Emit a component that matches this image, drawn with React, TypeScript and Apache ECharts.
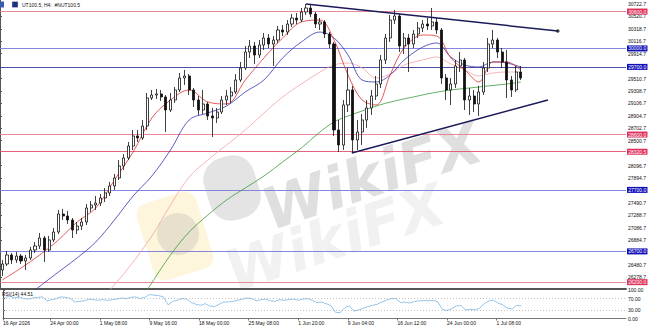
import React, { useEffect, useRef } from "react";
import * as echarts from "echarts";

const SLOTS = 134;
const slotCategories = Array.from({ length: SLOTS }, (_, i) => String(i));

// [open, close, low, high] — 12h candles
const candles: number[][] = [
  [26398, 26495, 26300, 26560], [26495, 26642, 26463, 26707], [26642, 26560, 26495, 26674], [26560, 26625, 26512, 26690],
  [26625, 26544, 26495, 26658], [26544, 26593, 26398, 26642], [26593, 26723, 26560, 26772], [26723, 26788, 26674, 26853],
  [26788, 26918, 26739, 26999], [26918, 26723, 26528, 26951], [26723, 26886, 26690, 26951], [26886, 27016, 26853, 27081],
  [27016, 27308, 26983, 27373], [27308, 27276, 27211, 27390], [27276, 27211, 27146, 27357], [27211, 27048, 26918, 27243],
  [27048, 27113, 26983, 27178], [27113, 27178, 27048, 27243], [27178, 27406, 27129, 27471], [27406, 27455, 27341, 27520],
  [27455, 27487, 27373, 27601], [27487, 27569, 27438, 27634], [27569, 27650, 27503, 27731], [27650, 27764, 27601, 27829],
  [27764, 27894, 27699, 27959], [27894, 28089, 27861, 28186], [28089, 28219, 28024, 28284], [28219, 28414, 28186, 28479],
  [28414, 28577, 28349, 28674], [28577, 28544, 28479, 28674], [28544, 28739, 28512, 28837], [28739, 29195, 28674, 29276],
  [29195, 29243, 29162, 29325], [29243, 29260, 29178, 29341], [29260, 29211, 29146, 29325], [29211, 28999, 28642, 29243],
  [28999, 29162, 28967, 29276], [29162, 29325, 29113, 29373], [29325, 29520, 29292, 29601], [29520, 29552, 29406, 29650],
  [29552, 29325, 29243, 29584], [29325, 29162, 29048, 29357], [29162, 28999, 28918, 29227], [28999, 29097, 28934, 29325],
  [29097, 28902, 28837, 29129], [28902, 28869, 28560, 29032], [28869, 28967, 28788, 29032], [28967, 29162, 28934, 29227],
  [29162, 29227, 29081, 29325], [29227, 29292, 29113, 29373], [29292, 29487, 29260, 29584], [29487, 29682, 29455, 29780],
  [29682, 29942, 29650, 30040], [29942, 30040, 29845, 30137], [30040, 29893, 29747, 30105], [29893, 30056, 29845, 30137],
  [30056, 30170, 29975, 30251], [30170, 30072, 30007, 30235], [30072, 30137, 29715, 30202], [30137, 30300, 30089, 30365],
  [30300, 30267, 30202, 30381], [30267, 30397, 30219, 30462], [30397, 30495, 30349, 30560], [30495, 30462, 30397, 30576],
  [30462, 30593, 30430, 30658], [30593, 30658, 30544, 30723], [30658, 30560, 30511, 30706], [30560, 30397, 30332, 30593],
  [30397, 30430, 30300, 30495], [30430, 30235, 30170, 30462], [30235, 30072, 30007, 30267], [30072, 28674, 28577, 30105],
  [28674, 28430, 28316, 28837], [28430, 29081, 28349, 29162], [29081, 29325, 28967, 29682], [29325, 28512, 28300, 29390],
  [28512, 28642, 28349, 28837], [28642, 28837, 28430, 28934], [28837, 29032, 28707, 29162], [29032, 29227, 28918, 29325],
  [29227, 29422, 29162, 29552], [29422, 29812, 29357, 29893], [29812, 30170, 29747, 30235], [30170, 30462, 30105, 30544],
  [30462, 30528, 30397, 30625], [30528, 30040, 29942, 30560], [30040, 30170, 29910, 30251], [30170, 30072, 29617, 30235],
  [30072, 30235, 30007, 30300], [30235, 30332, 30170, 30430], [30332, 30397, 30267, 30462], [30397, 30365, 30300, 30495],
  [30365, 30430, 30300, 30658], [30430, 30300, 30235, 30495], [30300, 29520, 29422, 30332], [29520, 29325, 29162, 29584],
  [29325, 29422, 29081, 29520], [29422, 29715, 29357, 29812], [29715, 29812, 29617, 29942], [29812, 29162, 28999, 29845],
  [29162, 29227, 28918, 29357], [29227, 29097, 28967, 29325], [29097, 29292, 28902, 29390], [29292, 29682, 29243, 29780],
  [29682, 30072, 29617, 30170], [30072, 30137, 30007, 30300], [30137, 29942, 29845, 30170], [29942, 29780, 29682, 30007],
  [29780, 29487, 29195, 29975], [29487, 29325, 29211, 29552], [29325, 29617, 29292, 29715], [29617, 29520, 29487, 29715],
];

// moving averages sampled at candle indices: [candleIndex, price]
const maFast = [
  [0, 26235], [4, 26430], [8, 26642], [12, 26886], [16, 27178], [20, 27406], [24, 27861], [28, 28316],
  [32, 28869], [36, 29162], [40, 29325], [44, 29129], [48, 29097], [52, 29487], [56, 29845], [60, 30170],
  [64, 30430], [68, 30462], [71, 30137], [74, 29568], [77, 29162], [80, 29081], [83, 29568], [86, 30007],
  [90, 30219], [93, 30202], [96, 29845], [99, 29650], [102, 29455], [105, 29780], [108, 29780], [111, 29650],
];
const maMid = [
  [7, 26072], [12, 26365], [16, 26593], [20, 26853], [24, 27211], [28, 27601], [32, 27926], [36, 28349],
  [40, 28837], [44, 28951], [48, 29064], [52, 29292], [56, 29487], [60, 29845], [64, 30105], [68, 30267],
  [71, 30170], [74, 29893], [77, 29487], [80, 29455], [83, 29568], [86, 29812], [90, 30023], [93, 30089],
  [96, 29861], [99, 29731], [102, 29698], [105, 29780], [108, 29763], [111, 29698],
];
const maSlow = [
  [23, 26072], [27, 26430], [32, 26951], [36, 27455], [40, 27910], [44, 28186], [48, 28430], [52, 28674],
  [56, 28950], [60, 29211], [64, 29422], [68, 29617], [71, 29731], [74, 29763], [77, 29682], [80, 29520],
  [83, 29584], [86, 29731], [90, 29812], [93, 29861], [96, 29747], [99, 29650], [102, 29552], [105, 29601],
  [108, 29617], [111, 29617],
];
const maLong = [
  [31, 26072], [36, 26642], [40, 27016], [44, 27292], [48, 27536], [52, 27731], [56, 27926], [60, 28154],
  [64, 28381], [68, 28642], [71, 28804], [74, 28902], [77, 28983], [80, 29064], [84, 29146], [88, 29211],
  [92, 29276], [96, 29325], [100, 29357], [104, 29390], [108, 29422], [111, 29455],
];

const rsiValues = [
  74, 78, 72, 75, 70, 68, 72, 74, 76, 62, 66, 70,
  76, 74, 70, 58, 60, 62, 68, 66, 64, 66, 64, 66,
  68, 72, 70, 74, 76, 70, 74, 84, 82, 80, 76, 48,
  60, 64, 70, 68, 56, 50, 46, 52, 44, 42, 50, 58,
  58, 60, 64, 68, 72, 70, 62, 66, 68, 62, 60, 66,
  64, 66, 68, 64, 68, 70, 64, 56, 58, 52, 46, 22,
  20, 38, 44, 26, 30, 36, 42, 46, 50, 58, 64, 70,
  70, 56, 58, 54, 60, 62, 63, 62, 64, 58, 32, 28,
  34, 44, 46, 30, 32, 30, 36, 52, 62, 64, 54, 48,
  36, 34, 46, 44.51,
];

const priceTicks = [
  26278.7, 26480.7, 26884.7, 27086.7, 27288.7, 27490.7, 27894.7, 28096.7, 28500.7, 28702.7,
  28904.7, 29106.7, 29308.7, 29510.7, 29914.7, 30116.7, 30318.7, 30520.7, 30722.7,
];
const rsiTicks = [0, 30, 70, 100];
const rsiLevels = [70, 30];

const levels = [30600, 30000, 29700, 28600, 28320.5, 27700, 26700, 26200];
const levelLabels = ["30600.0", "30000.0", "29700.0", "28600.0", "28320.5", "27700.0", "26700.0", "26200.0"];
const levelSide = ["r", "b", "b", "r", "r", "b", "b", "r"];

const timeTickPos = [0, 10.17, 20.83, 31.5, 42.17, 52.83, 63.5, 74.17, 84.83, 95.5, 106.17];
const timeTickLabels = [
  "16 Apr 2026", "24 Apr 00:00", "1 May 08:00", "9 May 16:00", "18 May 00:00", "25 May 08:00",
  "1 Jun 20:00", "9 Jun 04:00", "16 Jun 12:00", "24 Jun 00:00", "1 Jul 08:00",
];

const trendUpper = [[65.5, 30723], [119.4, 30284]];
const trendLower = [[75.3, 28300], [117.3, 29162]];

// styles
const FONT = "Liberation Sans";
const lineColorOf: Record<string, string> = { r: "#e87a90", b: "#7878d8" };
const boxColorOf: Record<string, string> = { r: "#e0305a", b: "#1010b8" };
const levelLineOverride: Record<number, string> = { 2: "#3c3c98", 4: "#e05070" };

function buildOption() {
  const levelMarks = levels.map((v, i) => ({
    yAxis: v,
    lineStyle: { color: levelLineOverride[i] || lineColorOf[levelSide[i]], width: 0.9, type: "solid" },
    label: {
      show: true,
      position: "end",
      distance: 1,
      formatter: levelLabels[i],
      color: "#ffffff",
      backgroundColor: boxColorOf[levelSide[i]],
      padding: [0.5, 1.2, 0, 1.2],
      fontSize: 5,
      lineHeight: 5.5,
      fontFamily: FONT,
    },
  }));

  const maSeries = (data: number[][], color: string, width = 0.8) => ({
    type: "line",
    xAxisIndex: 0,
    yAxisIndex: 0,
    data,
    smooth: 0.35,
    showSymbol: false,
    symbol: "none",
    lineStyle: { color, width },
    silent: true,
    z: 3,
  });

  return {
    animation: false,
    backgroundColor: "#ffffff",
    textStyle: { fontFamily: FONT },
    grid: [
      { left: 0, right: 24, top: 0, height: 289 },
      { left: 0, right: 24, top: 290, height: 28.5 },
    ],
    xAxis: [
      {
        type: "category",
        gridIndex: 0,
        data: slotCategories,
        boundaryGap: true,
        axisLine: { show: true, lineStyle: { color: "#555555", width: 2 } },
        axisTick: { show: false },
        axisLabel: { show: false },
        splitLine: { show: false },
      },
      { type: "value", gridIndex: 0, min: 0, max: SLOTS, show: false },
      { type: "category", gridIndex: 1, data: slotCategories, boundaryGap: true, show: false },
      {
        type: "value",
        gridIndex: 1,
        min: 0,
        max: SLOTS,
        position: "bottom",
        axisLine: { show: true, lineStyle: { color: "#777777", width: 1 } },
        axisTick: { show: true, customValues: timeTickPos, length: 2, lineStyle: { color: "#777777" } },
        axisLabel: {
          show: true,
          customValues: timeTickPos,
          formatter: (v: number) => {
            const k = timeTickPos.findIndex((p) => Math.abs(p - v) < 1e-6);
            return k >= 0 ? timeTickLabels[k] : "";
          },
          align: "left",
          fontSize: 5,
          margin: 2,
          color: "#111111",
          fontFamily: FONT,
        },
        splitLine: { show: false },
      },
    ],
    yAxis: [
      {
        type: "value",
        gridIndex: 0,
        position: "right",
        min: 26088.7,
        max: 30787.7,
        axisLine: { show: true, lineStyle: { color: "#555555", width: 1 } },
        axisTick: { show: true, customValues: priceTicks, length: 2, lineStyle: { color: "#555555" } },
        axisLabel: {
          show: true,
          customValues: priceTicks,
          formatter: (v: number) => v.toFixed(1),
          fontSize: 5,
          margin: 2,
          color: "#111111",
          fontFamily: FONT,
        },
        splitLine: { show: false },
      },
      {
        type: "value",
        gridIndex: 1,
        position: "right",
        min: 0,
        max: 100,
        axisLine: { show: true, lineStyle: { color: "#555555", width: 1 } },
        axisTick: { show: true, customValues: rsiTicks, length: 2, lineStyle: { color: "#555555" } },
        axisLabel: {
          show: true,
          customValues: rsiTicks,
          formatter: (v: number) => v.toFixed(2),
          fontSize: 5,
          margin: 2,
          color: "#111111",
          fontFamily: FONT,
        },
        splitLine: { show: false },
      },
    ],
    graphic: [
      // watermark
      {
        type: "rect",
        x: 175, y: 236, rotation: 0.3, z: 0,
        shape: { x: -31, y: -40, width: 62, height: 80, r: 12 },
        style: { fill: "rgba(248,222,140,0.30)" },
      },
      {
        type: "circle",
        x: 178, y: 234, z: 0,
        shape: { cx: 0, cy: 0, r: 21 },
        style: { fill: "rgba(140,140,140,0.20)" },
      },
      {
        type: "rect",
        x: 232, y: 188, rotation: 0.3, z: 0,
        shape: { x: -26, y: -32, width: 52, height: 64, r: 22 },
        style: { fill: "rgba(120,120,120,0.20)" },
      },
      {
        type: "text",
        x: 372, y: 176, rotation: 0.32, z: 0,
        style: {
          text: "WikiFX", fontSize: 58, fontWeight: "bold", fontStyle: "italic", fontFamily: "DejaVu Sans",
          fill: "rgba(110,110,110,0.22)", textAlign: "center", textVerticalAlign: "middle",
        },
      },
      {
        type: "text",
        x: 335, y: 238, rotation: 0.32, z: 0,
        style: {
          text: "WikiFX", fontSize: 58, fontWeight: "bold", fontStyle: "italic", fontFamily: "DejaVu Sans",
          fill: "rgba(170,170,170,0.16)", textAlign: "center", textVerticalAlign: "middle",
        },
      },
      // title
      { type: "rect", x: -2, y: 1.5, z: 10, shape: { width: 6, height: 6 }, style: { fill: "#3a5cb0" } },
      { type: "rect", x: 12, y: 1.5, z: 10, shape: { width: 6, height: 6 }, style: { fill: "#1d2f7a", stroke: "#d0d0e0", lineWidth: 0.5 } },
      {
        type: "text", x: 22, y: 4.5, z: 10,
        style: { text: "UT100.5, H4:  #NUT100.5", fontSize: 5, fill: "#111111", fontFamily: FONT, textVerticalAlign: "middle" },
      },
      {
        type: "text", x: 2, y: 293.5, z: 10,
        style: { text: "RSI(14) 44.51", fontSize: 5, fill: "#111111", fontFamily: FONT, textVerticalAlign: "middle" },
      },
    ],
    series: [
      {
        type: "candlestick",
        xAxisIndex: 0,
        yAxisIndex: 0,
        data: candles,
        barWidth: 2.6,
        z: 4,
        itemStyle: {
          color: "#ffffff",
          color0: "#111111",
          borderColor: "#111111",
          borderColor0: "#111111",
          borderWidth: 0.8,
        },
        markLine: {
          silent: true,
          symbol: "none",
          animation: false,
          z: 2,
          data: levelMarks,
        },
      },
      maSeries(maLong, "#3c9a3c"),
      maSeries(maSlow, "#f2a3a3"),
      maSeries(maMid, "#3434b8"),
      maSeries(maFast, "#e03030"),
      {
        type: "line",
        xAxisIndex: 1,
        yAxisIndex: 0,
        data: trendUpper,
        showSymbol: false,
        symbol: "none",
        lineStyle: { color: "#1a1a5a", width: 1.5 },
        z: 6,
      },
      {
        type: "line",
        xAxisIndex: 1,
        yAxisIndex: 0,
        data: trendLower,
        showSymbol: false,
        symbol: "none",
        lineStyle: { color: "#1a1a5a", width: 1.5 },
        z: 6,
      },
      {
        type: "scatter",
        xAxisIndex: 1,
        yAxisIndex: 0,
        data: [trendUpper[1]],
        symbolSize: 3.5,
        itemStyle: { color: "#111111" },
        z: 7,
      },
      {
        type: "line",
        xAxisIndex: 2,
        yAxisIndex: 1,
        data: rsiValues,
        showSymbol: false,
        symbol: "none",
        lineStyle: { color: "#7ab6e6", width: 0.8 },
        markLine: {
          silent: true,
          symbol: "none",
          label: { show: false },
          lineStyle: { color: "#9a9a9a", width: 0.6, type: [1, 2] },
          data: rsiLevels.map((v) => ({ yAxis: v })),
        },
      },
    ],
  };
}

export default function App() {
  const ref = useRef<HTMLDivElement>(null);
  useEffect(() => {
    document.body.style.margin = "0";
    if (!ref.current) return;
    const chart = echarts.init(ref.current, null, { renderer: "svg" });
    chart.setOption(buildOption() as any);
    return () => chart.dispose();
  }, []);
  return (
    <div
      ref={ref}
      style={{ position: "absolute", left: 0, top: 0, width: 650, height: 328, background: "#ffffff" }}
    />
  );
}
